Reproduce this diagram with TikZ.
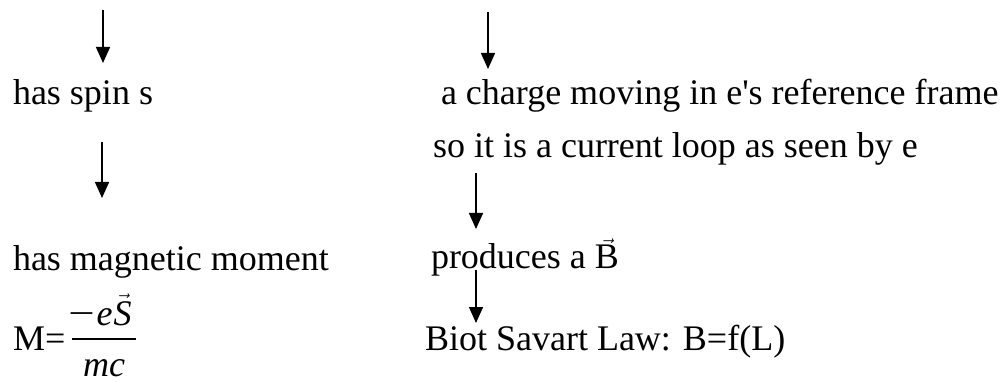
\documentclass[tikz,border=0pt]{standalone}
\usepackage{fontspec}
\setmainfont{Liberation Serif}
\usetikzlibrary{arrows.meta}
\tikzset{
  txt/.style={inner sep=0pt, outer sep=0pt, anchor=base west, font=\fontsize{36pt}{43pt}\selectfont},
  ctxt/.style={inner sep=0pt, outer sep=0pt, anchor=base, font=\fontsize{36pt}{43pt}\selectfont},
  flow/.style={line width=1.5pt, -{Triangle[width=14pt,length=16pt]}},
}
\begin{document}
\begin{tikzpicture}[x=1pt,y=-1pt]
\useasboundingbox (0,0) rectangle (1007,382);
% texts
\node[txt] (spin) at (13,105) {has spin s};
\node[txt] (charge) at (441,105) {a charge moving in e\textquotesingle s reference frame};
\node[txt] (loop) at (433,158) {so it is a current loop as seen by e};
\node[txt] (magmom) at (13,270) {has magnetic moment};
\node[txt] (prodB) at (431,269) {produces a $\vec{\mbox{B}}$};
\node[txt] (Meq) at (13,350) {M=};
\node[ctxt] (num) at (100,325) {\scalebox{1.3}[1]{−}\hspace{2pt}\textit{e}\hspace{1pt}$\vec{\mbox{\textit{S}}}$};
\node[ctxt] (den) at (104,376) {\textit{mc}};
\node[txt] (biot) at (425,350) {Biot Savart Law: B=f(L)};
% fraction bar
\coordinate (barL) at (72,339);
\coordinate (barR) at (136,339);
\draw[line width=1.3pt] (barL) -- (barR);
% arrow end points
\coordinate (a1s) at (103,10);
\coordinate (a1e) at (103,63);
\coordinate (a2s) at (488,12);
\coordinate (a2e) at (488,69);
\coordinate (a3s) at (102,142);
\coordinate (a3e) at (102,198);
\coordinate (a4s) at (476,173);
\coordinate (a4e) at (476,229);
\coordinate (a5s) at (476,270);
\coordinate (a5e) at (476,323);
\draw[flow] (a1s) -- (a1e);
\draw[flow] (a2s) -- (a2e);
\draw[flow] (a3s) -- (a3e);
\draw[flow] (a4s) -- (a4e);
\draw[flow] (a5s) -- (a5e);
\end{tikzpicture}
\end{document}
